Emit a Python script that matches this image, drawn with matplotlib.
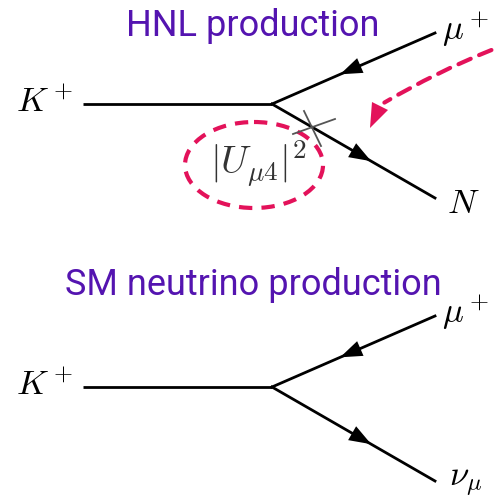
import matplotlib
matplotlib.use("Agg")
import matplotlib.pyplot as plt
from matplotlib.patches import Ellipse, FancyArrowPatch, Polygon
import numpy as np

plt.rcParams['mathtext.fontset'] = 'cm'

W, H = 494, 498
fig = plt.figure(figsize=(W / 100, H / 100), dpi=100)
ax = fig.add_axes([0, 0, 1, 1])
ax.set_xlim(0, W)
ax.set_ylim(H, 0)
ax.axis('off')

PURPLE = '#5414b0'
PINK = '#e3125a'

titles = ["HNL production", "SM neutrino production"]
title_pos = [(253, 36), (253, 295)]
vertices = [(272, 104), (272, 387)]
k_start_x = 83
upper_end = [(435, 33), (435, 316)]
lower_end = [(435, 198), (435, 481)]
in_labels = [r"$K^+$", r"$K^+$"]
out_up_labels = [r"$\mu^+$", r"$\mu^+$"]
out_low_labels = [r"$N$", r"$\nu_\mu$"]


def arrowhead(ax, p0, p1, frac, length=22, width=16, color='black'):
    p0 = np.array(p0, float); p1 = np.array(p1, float)
    d = (p1 - p0) / np.linalg.norm(p1 - p0)
    n = np.array([-d[1], d[0]])
    c = p0 + frac * (p1 - p0)
    tip = c + d * length / 2
    base = c - d * length / 2
    tri = Polygon([tip, base + n * width / 2, base - n * width / 2],
                  closed=True, color=color, lw=0, zorder=3)
    ax.add_patch(tri)


for i in range(2):
    vx, vy = vertices[i]
    ax.plot([k_start_x, vx], [vy, vy], color='black', lw=2, solid_capstyle='butt')
    ax.plot([vx, upper_end[i][0]], [vy, upper_end[i][1]], color='black', lw=2)
    ax.plot([vx, lower_end[i][0]], [vy, lower_end[i][1]], color='black', lw=2)
    arrowhead(ax, upper_end[i], (vx, vy), 0.52)
    arrowhead(ax, (vx, vy), lower_end[i], 0.55)
    ax.text(title_pos[i][0], title_pos[i][1], titles[i], color=PURPLE,
            fontsize=26, family='Roboto', fontweight='normal',
            ha='center', va='baseline')
    ax.text(45, vy - 2, in_labels[i], fontsize=25, ha='center', va='center')
    ax.text(466, upper_end[i][1] - 3, out_up_labels[i], fontsize=25,
            ha='center', va='center')

ax.text(463, 203, out_low_labels[0], fontsize=25, ha='center', va='center')
ax.text(466, 482, out_low_labels[1], fontsize=25, ha='center', va='center')

# mixing cross
ax.plot([293, 335], [134, 119], color='#555555', lw=1.3)
ax.plot([304, 321], [111, 146], color='#555555', lw=1.3)

# coupling label
ax.text(258, 164, r"$|U_{\mu4}|^2$", fontsize=28, color='#333333',
        ha='center', va='center')

# dashed ellipse
ax.add_patch(Ellipse((254, 165), 138, 86, fill=False, edgecolor=PINK,
                     lw=3, linestyle=(0, (3.2, 2.2))))

# dashed curved arrow
arr = FancyArrowPatch((494, 49), (382, 104),
                      connectionstyle="arc3,rad=0.04",
                      arrowstyle='-', color=PINK, lw=3,
                      linestyle=(0, (3.2, 2.2)))
ax.add_patch(arr)
ax.add_patch(Polygon([(370, 128), (372, 102), (388, 110)], closed=True,
                     color=PINK, lw=0))

fig.savefig('out.png', dpi=100)
